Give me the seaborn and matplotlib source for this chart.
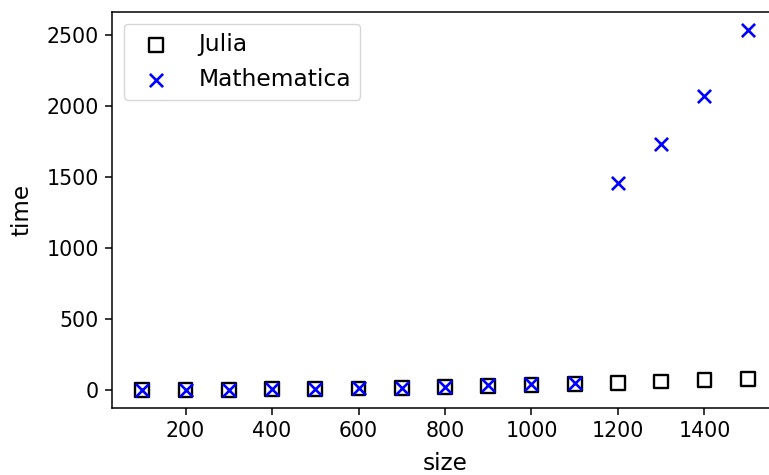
import matplotlib
matplotlib.use("Agg")
import matplotlib.pyplot as plt
import seaborn as sns
import pandas as pd

sizes = [100, 200, 300, 400, 500, 600, 700, 800, 900, 1000, 1100, 1200, 1300, 1400, 1500]
julia_time = [1, 1, 2, 4, 7, 10, 15, 21, 28, 35, 43, 52, 60, 68, 77]
mathematica_time = [1, 2, 3, 5, 8, 12, 17, 24, 32, 40, 48, 1458, 1732, 2070, 2535]

df_j = pd.DataFrame({"size": sizes, "time": julia_time})
df_m = pd.DataFrame({"size": sizes, "time": mathematica_time})

plt.rcParams["font.family"] = ["DejaVu Sans"]
plt.rcParams["font.size"] = 14.8
plt.rcParams["axes.linewidth"] = 1.1
plt.rcParams["xtick.major.size"] = 5
plt.rcParams["ytick.major.size"] = 5
plt.rcParams["xtick.major.width"] = 1.1
plt.rcParams["ytick.major.width"] = 1.1
plt.rcParams["xtick.major.pad"] = 4.5
plt.rcParams["ytick.major.pad"] = 4.5

fig = plt.figure(figsize=(7.69, 4.75), dpi=100)
ax = fig.add_axes([112 / 769, 67 / 475, 666 / 769, 396 / 475])

sns.scatterplot(data=df_j, x="size", y="time", marker="s", s=100,
                facecolor="none", edgecolor="black", linewidth=1.7,
                label="Julia", ax=ax)
sns.scatterplot(data=df_m, x="size", y="time", marker="x", s=90,
                color="blue", linewidth=1.9, label="Mathematica", ax=ax)

ax.set_xlim(30, 1570)
ax.set_ylim(-127, 2662)
ax.set_xticks([200, 400, 600, 800, 1000, 1200, 1400])
ax.set_yticks([0, 500, 1000, 1500, 2000, 2500])
ax.set_xlabel("size", fontsize=16.7, labelpad=7.5)
ax.set_ylabel("time", fontsize=16.7, labelpad=9.5)
ax.legend(loc="upper left", fontsize=16.8)

fig.savefig("out.png", dpi=100)
